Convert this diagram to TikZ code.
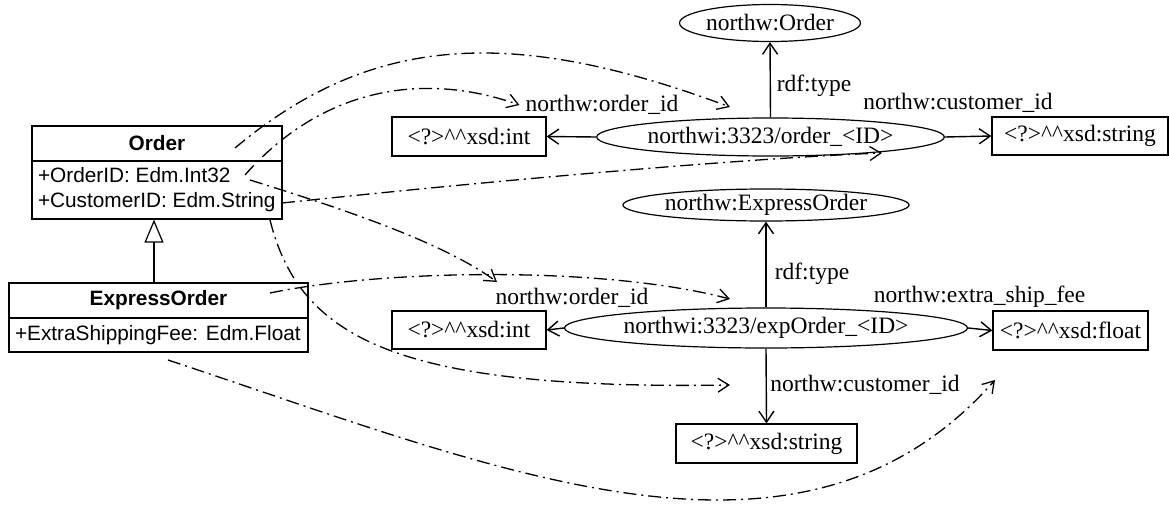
\documentclass[tikz,border=0pt]{standalone}
\usepackage{fontspec}
\setmainfont{Liberation Serif}
\newfontfamily\umlfont{Liberation Sans}
\usetikzlibrary{arrows.meta,shapes.geometric}
\newcommand\rdftext{\fontsize{23.5}{28}\selectfont}
\newcommand\umltext{\umlfont\fontsize{20.8}{25}\selectfont}
\newcommand\lit[1]{<?>\textasciicircum\textasciicircum xsd:#1}
\begin{document}
\begin{tikzpicture}[x=1pt,y=-1pt,
  rdfbox/.style={draw, line width=1.2pt, rectangle, inner sep=0pt, font=\rdftext},
  rdfell/.style={draw, line width=1.2pt, ellipse, inner sep=0pt, font=\rdftext},
  lbl/.style={inner sep=0pt, font=\rdftext},
  umlhead/.style={draw, line width=1.2pt, rectangle, inner sep=0pt, font=\umltext\bfseries},
  umlattr/.style={draw, line width=1.2pt, rectangle, inner xsep=6pt, inner ysep=0pt, font=\umltext, align=flush left},
  rel/.style={line width=1.4pt, -{Straight Barb[length=11pt,width=15pt]}},
  mapping/.style={line width=1.3pt, dash pattern=on 13pt off 5pt on 2pt off 5pt,
    -{Straight Barb[length=11pt,width=14pt]}},
]
\useasboundingbox (0,0) rectangle (1169,506);

% UML classes
\node[umlhead, minimum width=250pt, minimum height=35pt] (ordhead) at (157,143.5) {Order};
\node[umlattr, minimum width=250pt, minimum height=58pt, text width=238pt] (ordattr) at (157,190)
  {+OrderID: Edm.Int32\\+CustomerID: Edm.String};
\node[umlhead, minimum width=299pt, minimum height=35pt] (exphead) at (158.5,300.5) {ExpressOrder};
\node[umlattr, minimum width=299pt, minimum height=34pt, text width=287pt] (expattr) at (158.5,335)
  {+ExtraShippingFee: Edm.Float};
\coordinate (inh) at (154,0);
\draw[line width=1.2pt, -{Triangle[open,length=23pt,width=19pt]}]
  (exphead.north -| inh) -- (ordattr.south -| inh);

% RDF graph for Order
\node[rdfell, minimum width=165pt, minimum height=37pt] (t1) at (770,23) {northw:Order};
\node[rdfell, minimum width=291pt, minimum height=38pt] (e1) at (770.5,137) {northwi:3323/order\_<ID>};
\node[rdfbox, minimum width=154pt, minimum height=39pt] (i1) at (469,136.5) {\lit{int}};
\node[rdfbox, minimum width=176pt, minimum height=38pt] (s1) at (1080,136) {\lit{string}};
\node[lbl] (r1) at (814,86) {rdf:type};
\node[lbl] (p1) at (602,105) {northw:order\_id};
\node[lbl] (q1) at (958,103) {northw:customer\_id};
\draw[rel] (e1.north) -- (t1.south);
\draw[rel] (e1.west) -- (i1.east);
\draw[rel] (e1.east) -- (s1.west);

% RDF graph for ExpressOrder
\node[rdfell, minimum width=242pt, minimum height=32pt] (t2) at (766,205) {northw:ExpressOrder};
\node[rdfell, minimum width=322pt, minimum height=40pt] (e2) at (766,328) {northwi:3323/expOrder\_<ID>};
\node[rdfbox, minimum width=154pt, minimum height=38pt] (i2) at (469,330) {\lit{int}};
\node[rdfbox, minimum width=155pt, minimum height=39pt] (f2) at (1070.5,330.5) {\lit{float}};
\node[rdfbox, minimum width=181pt, minimum height=39pt] (s2) at (766.5,443.5) {\lit{string}};
\node[lbl] (r2) at (812,274) {rdf:type};
\node[lbl] (p2) at (572,298) {northw:order\_id};
\node[lbl] (x2) at (979.5,297) {northw:extra\_ship\_fee};
\node[lbl] (q2) at (865,385) {northw:customer\_id};
\draw[rel] (e2.north) -- (t2.south);
\draw[rel] (e2.west) -- (i2.east);
\draw[rel] (e2.east) -- (f2.west);
\draw[rel] (e2.south) -- (s2.north);

% mapping ends
\coordinate (m1s) at (235,148);  \coordinate (m1e) at (730,107);
\coordinate (m2s) at (245,175);
\coordinate (m3s) at (250,180);  \coordinate (m3e) at (497,282);
\coordinate (m4s) at (282,203);  \coordinate (m4e) at (882,153);
\coordinate (m5s) at (270,293);  \coordinate (m5e) at (730,299);
\coordinate (m6s) at (270,220);  \coordinate (m6e) at (730,385);
\coordinate (m7s) at (168,360);  \coordinate (m7e) at (995,380);

% mappings from the classes to the graph
\draw[mapping] (m1s) .. controls (370,35) and (510,25) .. (m1e);
\draw[mapping] (m2s) .. controls (320,90) and (420,70) .. ([xshift=-6pt]p1.west);
\draw[mapping] (m3s) .. controls (330,205) and (440,240) .. (m3e);
\draw[mapping] (m4s) .. controls (500,180) and (750,158) .. (m4e);
\draw[mapping] (m5s) .. controls (380,270) and (600,265) .. (m5e);
\draw[mapping] (m6s) .. controls (300,340) and (400,390) .. (m6e);
\draw[mapping] (m7s) .. controls (500,470) and (800,600) .. (m7e);
\end{tikzpicture}
\end{document}
